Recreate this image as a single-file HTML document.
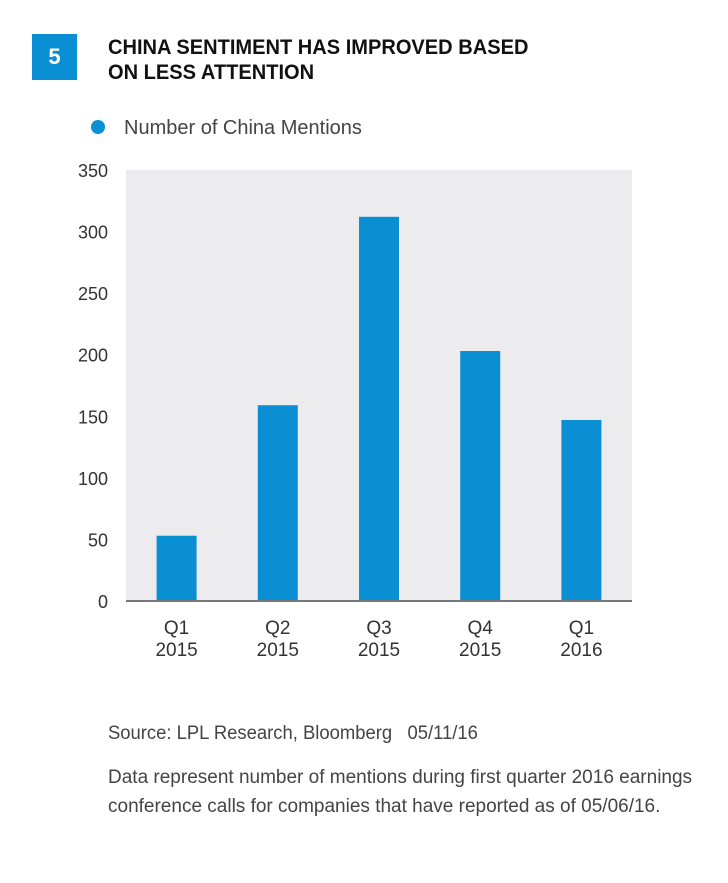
<!DOCTYPE html>
<html><head><meta charset="utf-8"><style>
body{margin:0;background:#fff;width:728px;height:883px;overflow:hidden;font-family:"Liberation Sans Narrow","Liberation Sans",sans-serif;position:relative}
.badge{position:absolute;left:32px;top:34px;width:45px;height:46px;background:#0b8fd4;color:#fff;font-weight:bold;font-size:22px;text-align:center;line-height:46px}
.title{position:absolute;left:108px;top:35px;font-weight:bold;font-size:21px;line-height:25px;color:#111;transform:scaleX(0.955);transform-origin:0 0;white-space:nowrap}
.note{position:absolute;left:108px;color:#444;font-size:19px;line-height:29px;white-space:nowrap}
</style></head><body>
<div class="badge">5</div>
<div class="title">CHINA SENTIMENT HAS IMPROVED BASED<br>ON LESS ATTENTION</div>
<svg id="chart" width="728" height="700" style="position:absolute;left:0;top:0"></svg>
<div class="note" style="top:719px;transform:scaleX(0.97);transform-origin:0 0">Source: LPL Research, Bloomberg&nbsp;&nbsp;&nbsp;05/11/16</div>
<div class="note" style="top:763px">Data represent number of mentions during first quarter 2016 earnings<br>conference calls for companies that have reported as of 05/06/16.</div>
<script>
const categories=[["Q1","2015"],["Q2","2015"],["Q3","2015"],["Q4","2015"],["Q1","2016"]];
const values=[53,159,312,203,147];
const yTicks=[0,50,100,150,200,250,300,350];
const seriesName="Number of China Mentions";
const NS="http://www.w3.org/2000/svg";
const svg=document.getElementById('chart');
const L=126,R=632,T=170,B=601,yMax=350;
const y=v=>B-(v/yMax)*(B-T);
const band=(R-L)/categories.length;
const x=i=>L+band*(i+0.5);
function mk(t,a,txt){const e=document.createElementNS(NS,t);for(const k in a)e.setAttribute(k,a[k]);if(txt!=null)e.textContent=txt;svg.appendChild(e);return e;}
let e=mk('rect',{x:L,y:T,width:R-L,height:B-T,fill:'#ececee'});


e=mk('circle',{cx:98,cy:127,r:7,fill:'#0b8fd4'});


e=mk('text',{x:124,y:134,'font-size':20,fill:'#444'},seriesName);


yTicks.forEach(t=>{
  const el=mk('text',{x:108,y:y(t)+7,'text-anchor':'end','font-size':18,fill:'#333'},t);
  
  
});
values.forEach((v,i)=>{
  const b=mk('rect',{x:x(i)-20,y:y(v),width:40,height:B-y(v),fill:'#0b8fd4'});
  
  
  categories[i].forEach((ln,j)=>{
    const t=mk('text',{x:x(i),y:634+j*22,'text-anchor':'middle','font-size':19,fill:'#333'},ln);
    
    
  });
});
e=mk('line',{x1:L,x2:R,y1:B,y2:B,stroke:'#777','stroke-width':2});


</script>
</body></html>
